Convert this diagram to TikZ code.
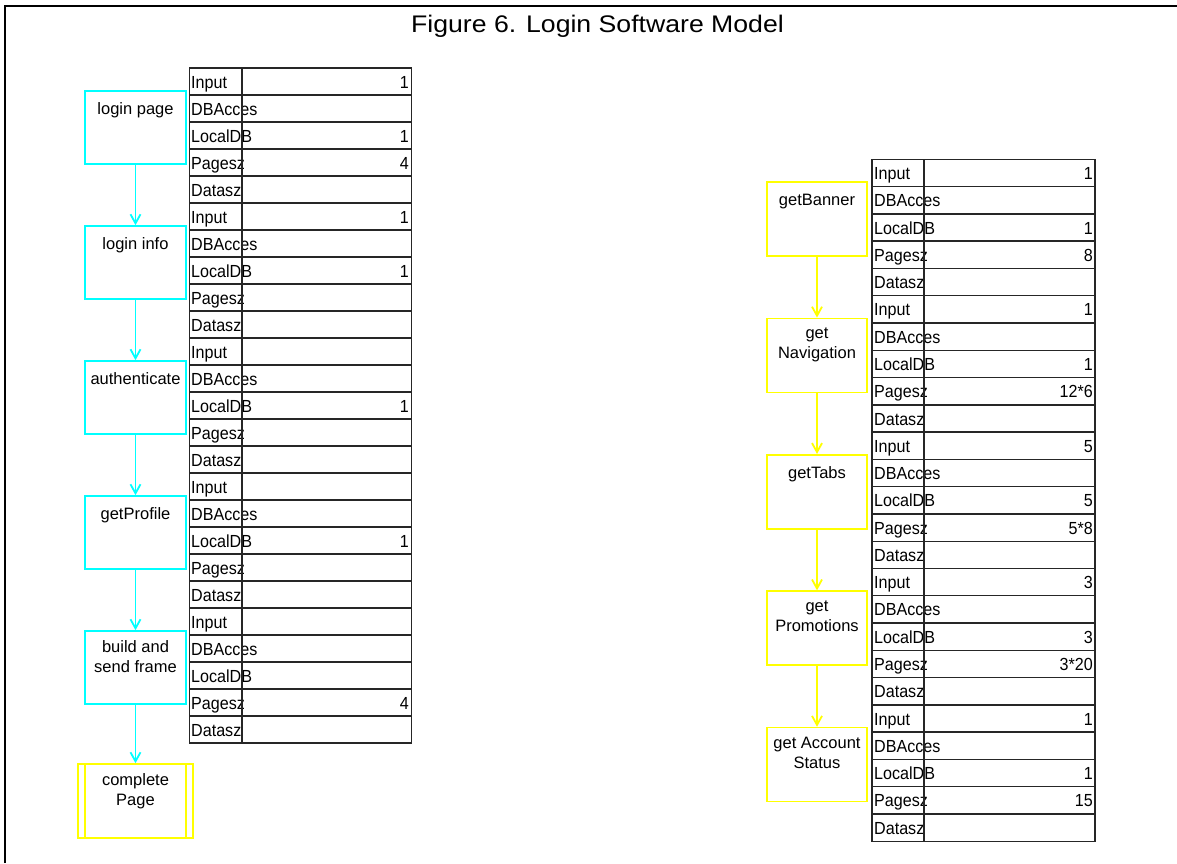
\documentclass[tikz,border=0pt]{standalone}
\usepackage{graphicx}
\usepackage{fontspec}
\setmainfont{Liberation Sans}
\usetikzlibrary{arrows.meta}
\definecolor{cyanline}{RGB}{0,255,255}
\definecolor{yelline}{RGB}{255,255,0}
\newcommand\rowlab[1]{\ifcase#1 Input\or DBAcces\or LocalDB\or Pagesz\or Datasz\fi}
\newcommand\nx[1]{\scalebox{0.92}[1]{#1}}
\begin{document}
\begin{tikzpicture}[x=1pt,y=-1pt,
  cellL/.style={draw=black!85,line width=1.4pt,minimum width=222pt,minimum height=27pt,inner sep=0pt},
  cellR/.style={draw=black!85,line width=1.4pt,minimum width=223pt,minimum height=27.28pt,inner sep=0pt},
  divline/.style={draw=black!85,line width=1.4pt},
  lab/.style={anchor=base west,inner sep=0pt,font=\fontsize{17.5}{21}\selectfont},
  val/.style={anchor=base east,inner sep=0pt,font=\fontsize{17.5}{21}\selectfont},
  cbox/.style={draw=cyanline,line width=1.7pt,minimum width=101pt,minimum height=73pt,inner sep=0pt},
  ybox/.style={draw=yelline,line width=1.7pt,minimum width=100pt,minimum height=74pt,inner sep=0pt},
  btext/.style={anchor=north,inner sep=0pt,align=center,font=\fontsize{16.5}{20.5}\selectfont,execute at begin node=\strut},
  carrow/.style={draw=cyanline,line width=1.8pt,-{Straight Barb[length=9pt,width=10pt]}},
  yarrow/.style={draw=yelline,line width=1.8pt,-{Straight Barb[length=9pt,width=10pt]}}]
\useasboundingbox (0,0) rectangle (1177,863);
% outer frame
\draw[line width=2.5pt] (5,863) -- (5,6) -- (1177,6);
% title
\node[anchor=base,inner sep=0pt,font=\fontsize{24}{28}\selectfont] (title) at (597.5,32)
  {\scalebox{1.11}[1]{Figure 6. Login Software Model}};

% left table
\foreach \v [count=\i from 0] in {1,{},1,4,{}, 1,{},1,{},{}, {},{},1,{},{}, {},{},1,{},{}, {},{},{},4,{}} {
  \pgfmathsetmacro\t{68+\i*27}
  \pgfmathtruncatemacro\m{mod(\i,5)}
  \node[cellL] (L\i) at (300.5,\t+13.5) {};
  \node[lab] (Ll\i) at (191,\t+20) {\nx{\rowlab{\m}}};
  \node[val] (Lv\i) at (409,\t+20) {\nx{\v}};
}
\draw[divline] (242,68) -- (242,743);

% right table
\foreach \v [count=\i from 0] in {1,{},1,8,{}, 1,{},1,12*6,{}, 5,{},5,5*8,{}, 3,{},3,3*20,{}, 1,{},1,15,{}} {
  \pgfmathsetmacro\t{159.3+\i*27.28}
  \pgfmathtruncatemacro\m{mod(\i,5)}
  \node[cellR] (R\i) at (983.5,\t+13.64) {};
  \node[lab] (Rl\i) at (874,\t+20.2) {\nx{\rowlab{\m}}};
  \node[val] (Rv\i) at (1093,\t+20.2) {\nx{\v}};
}
\draw[divline] (924,159.3) -- (924,841.3);

% left boxes
\node[cbox] (a1) at (135.5,127.5) {};
\node[btext] (ta1) at (135.5,100) {login page};
\node[cbox] (a2) at (135.5,262.5) {};
\node[btext] (ta2) at (135.5,235) {login info};
\node[cbox] (a3) at (135.5,397.5) {};
\node[btext] (ta3) at (135.5,370) {authenticate};
\node[cbox] (a4) at (135.5,532.5) {};
\node[btext] (ta4) at (135.5,505) {getProfile};
\node[cbox] (a5) at (135.5,667.5) {};
\node[btext] (ta5) at (135.5,640) {build and\\send frame};
\node[draw=yelline,line width=1.7pt,minimum width=115pt,minimum height=74pt,inner sep=0pt] (cp) at (135.5,801) {};
\draw[draw=yelline,line width=1.7pt] ([xshift=8pt]cp.north west) -- ([xshift=8pt]cp.south west);
\draw[draw=yelline,line width=1.7pt] ([xshift=-8pt]cp.north east) -- ([xshift=-8pt]cp.south east);
\node[btext] (tcp) at (135.5,773) {complete\\Page};

\draw[carrow] (a1.south) -- (a2.north);
\draw[carrow] (a2.south) -- (a3.north);
\draw[carrow] (a3.south) -- (a4.north);
\draw[carrow] (a4.south) -- (a5.north);
\draw[carrow] (a5.south) -- (cp.north);

% right boxes
\node[ybox] (b1) at (817,219) {};
\node[btext] (tb1) at (817,191) {getBanner};
\node[ybox] (b2) at (817,355.4) {};
\node[btext] (tb2) at (817,327.4) {get\\Navigation};
\node[ybox] (b3) at (817,491.8) {};
\node[btext] (tb3) at (817,463.8) {getTabs};
\node[ybox] (b4) at (817,628.2) {};
\node[btext] (tb4) at (817,600.2) {get\\Promotions};
\node[ybox] (b5) at (817,764.6) {};
\node[btext] (tb5) at (817,736.6) {get Account\\Status};

\draw[yarrow] (b1.south) -- (b2.north);
\draw[yarrow] (b2.south) -- (b3.north);
\draw[yarrow] (b3.south) -- (b4.north);
\draw[yarrow] (b4.south) -- (b5.north);
\end{tikzpicture}
\end{document}
